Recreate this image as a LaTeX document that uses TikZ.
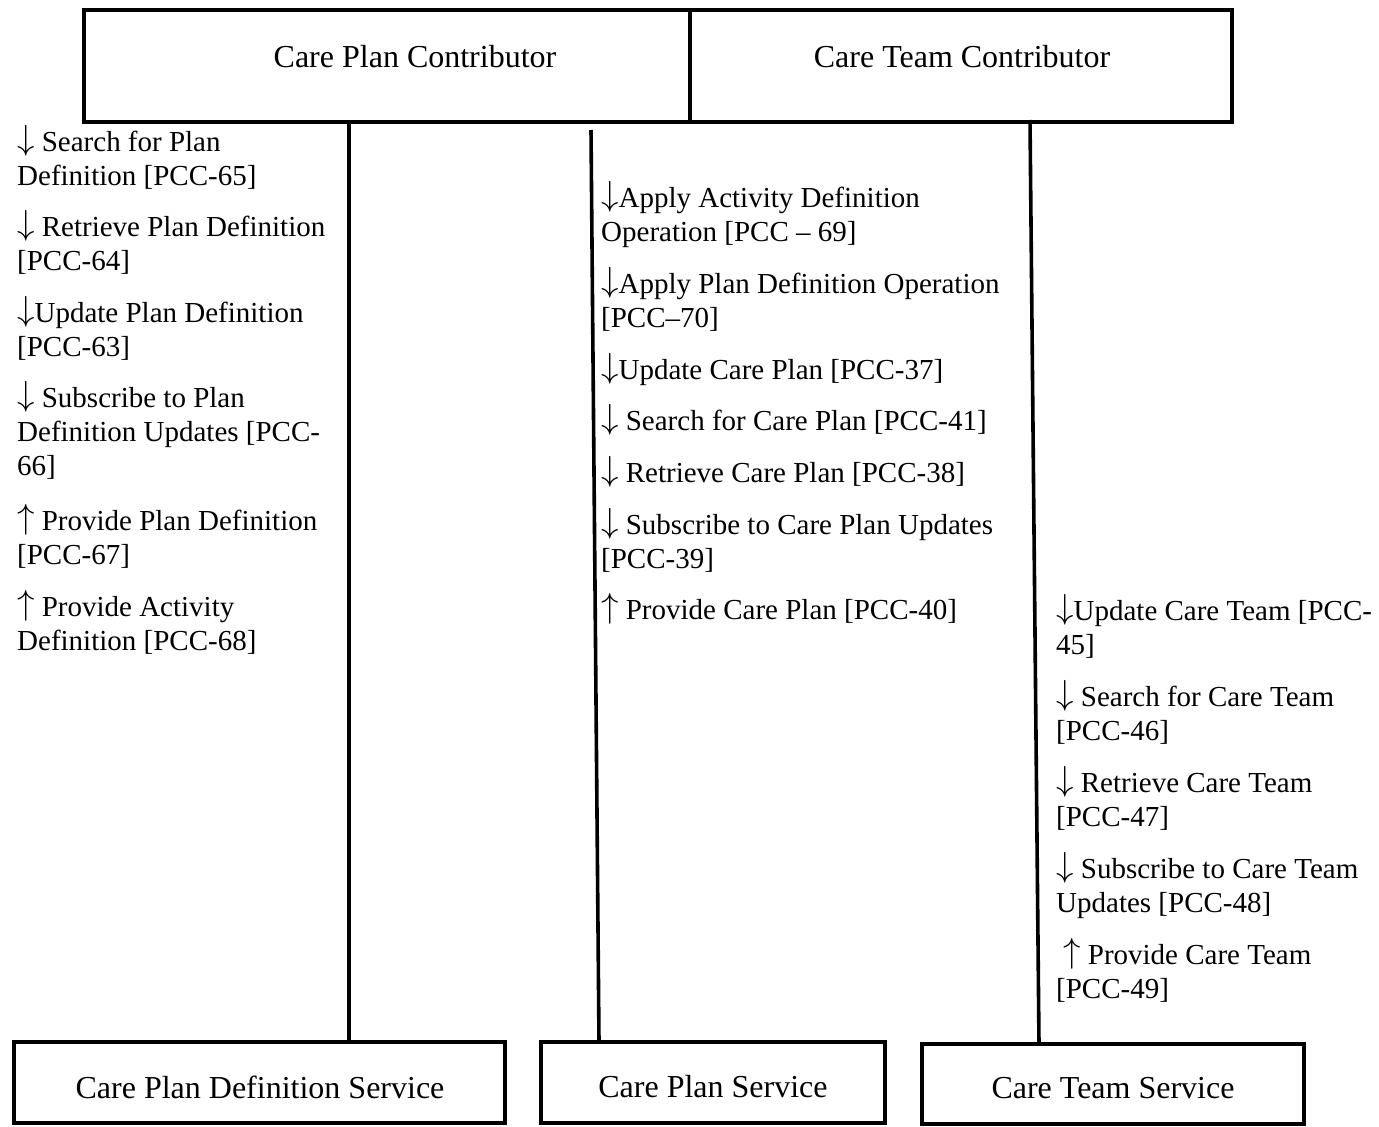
\documentclass[tikz,border=0pt]{standalone}
\usepackage{fontspec}
\usepackage{graphicx}
\setmainfont{Liberation Serif}
\newcommand{\dn}{\raisebox{2pt}{\scalebox{1.4}{\(\downarrow\)}}}
\newcommand{\upa}{\raisebox{2pt}{\scalebox{1.4}{\(\uparrow\)}}}
\begin{document}
\begin{tikzpicture}[x=1pt,y=-1pt,
  box/.style={draw,line width=4.5pt,inner sep=0pt,outer sep=0pt,anchor=north west},
  title/.style={font=\fontsize{32}{36}\selectfont,inner sep=0pt},
  note/.style={anchor=north west,inner sep=0pt,align=left,yshift=2pt,
    font=\fontsize{29}{33.6}\selectfont},
  wire/.style={line width=3.6pt}]
\useasboundingbox (0,0) rectangle (1379,1127);

% contributors (top)
\node[box,minimum width=606pt,minimum height=112pt] (cpc) at (84,10) {};
\node[title] (cpct) at (415,57) {Care Plan Contributor};
\node[box,minimum width=542pt,minimum height=112pt] (ctc) at (690,10) {};
\node[title] (ctct) at (962,57) {Care Team Contributor};

% services (bottom)
\node[box,minimum width=491pt,minimum height=81pt] (cpds) at (14,1042) {};
\node[title] (cpdst) at (260,1087) {Care Plan Definition Service};
\node[box,minimum width=344pt,minimum height=81pt] (cps) at (541,1042) {};
\node[title] (cpst) at (713,1087) {Care Plan Service};
\node[box,minimum width=382pt,minimum height=80pt] (cts) at (922,1044) {};
\node[title] (ctst) at (1113,1088) {Care Team Service};

% connectors
\coordinate (m1) at (591,130);
\coordinate (m2) at (599,1042);
\coordinate (r1) at (1030,120);
\coordinate (r2) at (1039,1044);
\draw[wire] (cpc.south -| 349,0) -- (cpds.north -| 349,0);
\draw[wire] (m1) -- (m2);
\draw[wire] (r1) -- (r2);

% Care Plan Definition transactions
\node[note] (a1) at (17,127.5) {\strut\dn{} Search for Plan\\Definition [PCC-65]};
\node[note] (a2) at (17,212.5) {\strut\dn{} Retrieve Plan Definition\\{}[PCC-64]};
\node[note] (a3) at (17,298.5) {\strut\dn{}Update Plan Definition\\{}[PCC-63]};
\node[note] (a4) at (17,383.5) {\strut\dn{} Subscribe to Plan\\Definition Updates [PCC-\\66]};
\node[note] (a5) at (17,506.5) {\strut\upa{} Provide Plan Definition\\{}[PCC-67]};
\node[note] (a6) at (17,592.5) {\strut\upa{} Provide Activity\\Definition [PCC-68]};

% Care Plan transactions
\node[note] (b1) at (601,183.5) {\strut\dn{}Apply Activity Definition\\Operation [PCC – 69]};
\node[note] (b2) at (601,269.5) {\strut\dn{}Apply Plan Definition Operation\\{}[PCC–70]};
\node[note] (b3) at (601,355.5) {\strut\dn{}Update Care Plan [PCC-37]};
\node[note] (b4) at (601,406.5) {\strut\dn{} Search for Care Plan [PCC-41]};
\node[note] (b5) at (601,458.5) {\strut\dn{} Retrieve Care Plan [PCC-38]};
\node[note] (b6) at (601,510.5) {\strut\dn{} Subscribe to Care Plan Updates\\{}[PCC-39]};
\node[note] (b7) at (601,595.5) {\strut\upa{} Provide Care Plan [PCC-40]};

% Care Team transactions
\node[note] (c1) at (1056,596.5) {\strut\dn{}Update Care Team [PCC-\\45]};
\node[note] (c2) at (1056,682.5) {\strut\dn{} Search for Care Team\\{}[PCC-46]};
\node[note] (c3) at (1056,768.5) {\strut\dn{} Retrieve Care Team\\{}[PCC-47]};
\node[note] (c4) at (1056,854.5) {\strut\dn{} Subscribe to Care Team\\Updates [PCC-48]};
\node[note] (c5) at (1056,940.5) {\strut\hspace*{7pt}\upa{} Provide Care Team\\{}[PCC-49]};
\end{tikzpicture}
\end{document}
